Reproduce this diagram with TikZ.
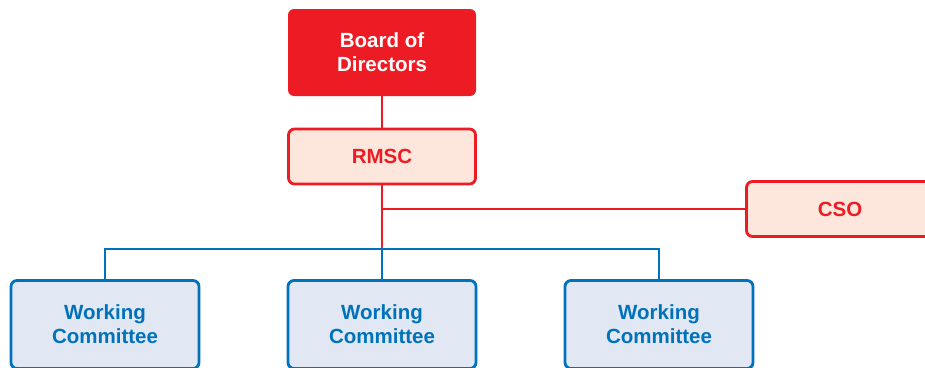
\documentclass[tikz,border=0pt]{standalone}
\usepackage{fontspec}
\setmainfont{Liberation Sans}
\definecolor{brandred}{HTML}{ED1C24}
\definecolor{palered}{HTML}{FDE6DC}
\definecolor{brandblue}{HTML}{0072BC}
\definecolor{paleblue}{HTML}{E1E7F3}
\begin{document}
\begin{tikzpicture}[x=1pt,y=-1pt,
  lbl/.style={font=\fontsize{20.5}{24}\selectfont\bfseries, align=center, inner sep=0pt},
  topbox/.style={lbl, fill=brandred, text=white, rounded corners=6pt,
    minimum width=188pt, minimum height=87pt},
  redbox/.style={lbl, draw=brandred, fill=palered, text=brandred, line width=2.8pt,
    rounded corners=6pt, minimum width=187pt, minimum height=55pt},
  bluebox/.style={lbl, draw=brandblue, fill=paleblue, text=brandblue, line width=2.8pt,
    rounded corners=6pt, minimum width=188pt, minimum height=88pt},
  redline/.style={draw=brandred, line width=2.8pt},
  blueline/.style={draw=brandblue, line width=2.8pt}]
\useasboundingbox (0,0) rectangle (925,367);
\clip (0,0) rectangle (925,367);

\coordinate (j) at (382,249);

\node[topbox] (board) at (382,52.5) {Board of\\Directors};
\node[redbox] (rmsc) at (382,156.5) {RMSC};
\node[redbox] (cso) at (840,209) {CSO};
\node[bluebox] (wc1) at (105,324.5) {Working\\Committee};
\node[bluebox] (wc2) at (382,324.5) {Working\\Committee};
\node[bluebox] (wc3) at (659,324.5) {Working\\Committee};

% red reporting lines
\path[redline] (board.south) -- (rmsc.north);
\path[redline] (rmsc.south) -- (j);
\path[redline] (rmsc.south |- cso.west) -- (cso.west);
% blue branch to the working committees
\path[blueline] (wc1.north) |- (j) -| (wc3.north);
\path[blueline] (j) -- (wc2.north);
\end{tikzpicture}
\end{document}
